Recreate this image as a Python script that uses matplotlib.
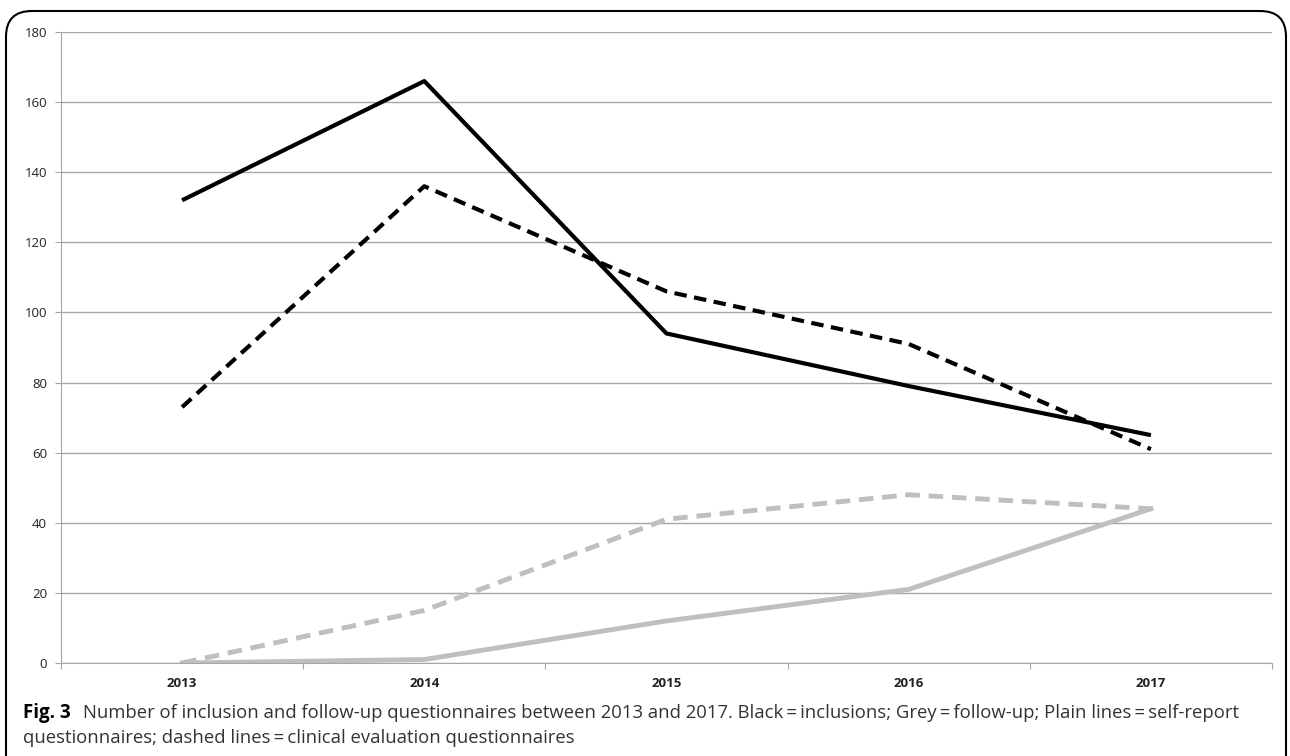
import matplotlib.pyplot as plt
from matplotlib.patches import FancyBboxPatch

years = ['2013', '2014', '2015', '2016', '2017']
incl_self = [132, 166, 94, 79, 65]
incl_clin = [73, 136, 106, 91, 61]
fu_self = [0, 1, 12, 21, 44]
fu_clin = [0, 15, 41, 48, 44]
y_ticks = list(range(0, 181, 20))

plt.rcParams['font.family'] = ['Open Sans', 'DejaVu Sans']

fig = plt.figure(figsize=(12.9, 7.56), dpi=100)
ax = fig.add_axes([61 / 1290, 1 - 663 / 756, (1272 - 61) / 1290, (663 - 32) / 756])

x = list(range(len(years)))
grey = '#bfbfbf'
ax.plot(x, incl_self, color='black', lw=3, solid_capstyle='butt')
ax.plot(x, incl_clin, color='black', lw=3, ls=(0, (3, 1.8)))
ax.plot(x, fu_self, color=grey, lw=3.5)
ax.plot(x, fu_clin, color=grey, lw=3.5, ls=(0, (3, 1.8)))

ax.set_xlim(-0.5, len(years) - 0.5)
ax.set_ylim(0, 180)
ax.set_yticks(y_ticks)
ax.set_yticklabels([str(v) for v in y_ticks], fontsize=9.5, color='#222222')
ax.yaxis.grid(True, color='#a6a6a6', lw=1)
ax.set_axisbelow(True)

# category boundaries as tick marks, labels centred
ax.set_xticks([i - 0.5 for i in range(len(years) + 1)])
ax.set_xticklabels([])
ax.set_xticks(x, minor=True)
ax.set_xticklabels(years, minor=True, fontsize=9.5, fontweight='bold', color='#222222')
ax.tick_params(axis='x', which='minor', length=0, pad=10)
ax.tick_params(axis='x', which='major', length=4, color='#a6a6a6', direction='out')
ax.tick_params(axis='y', length=4, color='#a6a6a6', pad=6)

for side in ['top', 'right']:
    ax.spines[side].set_visible(False)
ax.spines['left'].set_color('#a6a6a6')
ax.spines['bottom'].set_color('#a6a6a6')

fig.text(23 / 1290, 1 - 713 / 756, 'Fig. 3', fontsize=13.5, fontweight='bold', va='center')
fig.text(83 / 1290, 1 - 713 / 756,
         'Number of inclusion and follow-up questionnaires between 2013 and 2017. Black\u2009=\u2009inclusions; Grey\u2009=\u2009follow-up; Plain lines\u2009=\u2009self-report',
         fontsize=13.3, color='#333333', va='center')
fig.text(23 / 1290, 1 - 738 / 756,
         'questionnaires; dashed lines\u2009=\u2009clinical evaluation questionnaires',
         fontsize=13.3, color='#333333', va='center')

border = FancyBboxPatch((6 / 1290, -0.05), (1286 - 6) / 1290, 1.05 - 11 / 756,
                        boxstyle='round,pad=0,rounding_size=0.02',
                        transform=fig.transFigure, fill=False, ec='black', lw=1.5,
                        mutation_aspect=1290 / 756)
fig.patches.append(border)

fig.savefig('out.png', dpi=100)
